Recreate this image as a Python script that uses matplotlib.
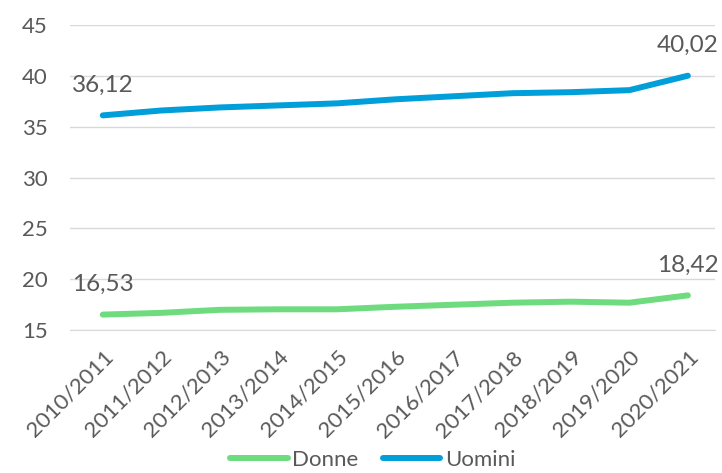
import matplotlib
matplotlib.use("Agg")
import matplotlib.pyplot as plt

years = ["2010/2011", "2011/2012", "2012/2013", "2013/2014", "2014/2015", "2015/2016",
         "2016/2017", "2017/2018", "2018/2019", "2019/2020", "2020/2021"]
donne = [16.53, 16.7, 17.0, 17.05, 17.05, 17.3, 17.5, 17.7, 17.8, 17.7, 18.42]
uomini = [36.12, 36.6, 36.9, 37.1, 37.3, 37.7, 38.0, 38.3, 38.4, 38.6, 40.02]

GREEN = "#6ddb7e"
BLUE = "#009fd9"
GREY = "#595959"

plt.rcParams["font.family"] = ["Lato", "DejaVu Sans"]

fig = plt.figure(figsize=(7.22, 4.73), dpi=100)
ax = fig.add_axes([0.097, 0.302, 0.893, 0.645])

x = range(len(years))
ax.plot(x, donne, color=GREEN, lw=4.3, solid_capstyle="round", label="Donne", zorder=3)
ax.plot(x, uomini, color=BLUE, lw=4.3, solid_capstyle="round", label="Uomini", zorder=3)

ax.set_ylim(15, 45)
ax.set_yticks(range(15, 46, 5))
ax.set_xlim(-0.56, len(years) - 1 + 0.46)
ax.set_xticks(list(x))
ax.set_xticklabels(years, rotation=45, ha="right", rotation_mode="anchor")
ax.tick_params(axis="both", length=0, labelsize=16, labelcolor=GREY)
ax.tick_params(axis="y", pad=16)
ax.tick_params(axis="x", pad=12)
ax.grid(axis="y", color="#d9d9d9", lw=1)
ax.set_axisbelow(True)
for s in ["top", "right", "left"]:
    ax.spines[s].set_visible(False)
ax.spines["bottom"].set_color("#d9d9d9")

def lab(i, v):
    ax.annotate(f"{v:.2f}".replace(".", ","), (i, v), xytext=(0, 17),
                textcoords="offset points", ha="center", va="baseline", fontsize=17.5, color=GREY)

lab(0, uomini[0])
lab(10, uomini[-1])
lab(0, donne[0])
lab(10, donne[-1])

# reference legend sits right at the bottom edge; kept just inside the canvas
fig.legend(loc="center", bbox_to_anchor=(0.516, 0.028), ncol=2, frameon=False,
           fontsize=16, labelcolor=GREY, handlelength=2.6, handletextpad=0.2, columnspacing=1.1,
           borderpad=0.2)

fig.savefig("out.png", dpi=100)
